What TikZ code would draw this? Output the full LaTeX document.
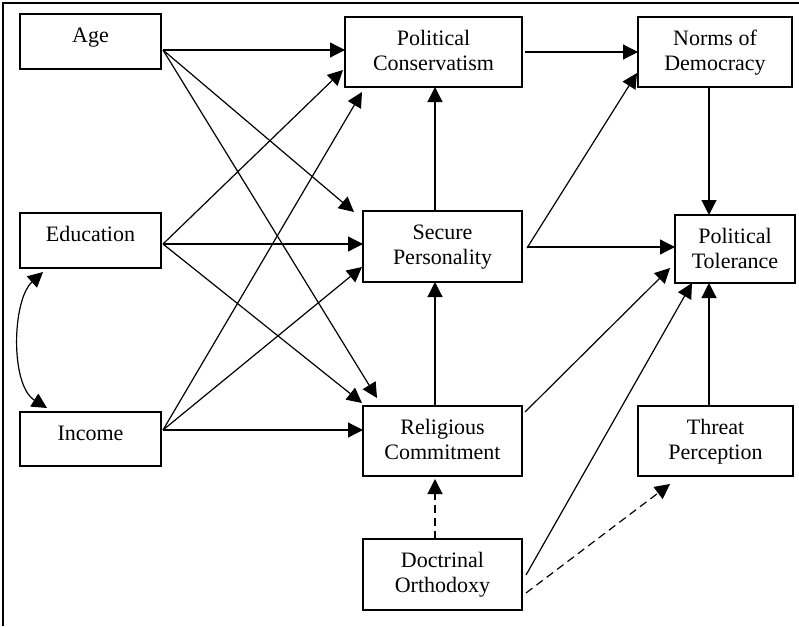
\documentclass[tikz,border=0pt]{standalone}
\usepackage{fontspec}
\setmainfont{Liberation Serif}
\usetikzlibrary{arrows.meta,calc}
\newcommand{\bxtext}[3]{\parbox[c][#2][t]{#1}{\centering\rule{0pt}{28.5pt}#3}}
\tikzset{
  vbox/.style={draw, line width=1.2pt, inner sep=0pt, outer sep=0pt, anchor=north west,
    font=\fontsize{22}{25}\selectfont},
  conn/.style={line width=1.2pt, -{Triangle[length=15pt,width=15pt]}},
  dconn/.style={conn, dash pattern=on 8pt off 5pt},
  frame/.style={line width=1.2pt}
}
\begin{document}
\begin{tikzpicture}[x=1pt,y=-1pt]
\useasboundingbox (0,0) rectangle (799,626);
\draw[frame] (3,626) -- (3,3) -- (799,3);

\node[vbox] (age) at (20,14) {\bxtext{141pt}{55pt}{Age}};
\node[vbox] (edu) at (20,213) {\bxtext{141pt}{55pt}{Education}};
\node[vbox] (inc) at (20,412) {\bxtext{141pt}{54pt}{Income}};
\node[vbox] (pc) at (345,17) {\bxtext{177pt}{70pt}{Political\\Conservatism}};
\node[vbox] (nd) at (638,17) {\bxtext{154pt}{70pt}{Norms of\\Democracy}};
\node[vbox] (sp) at (363,211) {\bxtext{159pt}{71pt}{Secure\\Personality}};
\node[vbox] (pt) at (675,215) {\bxtext{120pt}{68pt}{Political\\Tolerance}};
\node[vbox] (rc) at (363,406) {\bxtext{159pt}{70pt}{Religious\\Commitment}};
\node[vbox] (tp) at (638,406) {\bxtext{155pt}{70pt}{Threat\\Perception}};
\node[vbox] (do) at (363,539) {\bxtext{159pt}{71pt}{Doctrinal\\Orthodoxy}};

% Age
\draw[conn] ($(age.east)+(2,8.5)$) -- ($(pc.west)+(0,-2)$);
\draw[conn] ($(age.east)+(2,8.5)$) -- ($(sp.north west)+(-9,1)$);
\draw[conn] ($(age.east)+(2,8.5)$) -- ($(rc.north west)+(14,-8)$);
% Education
\draw[conn] ($(edu.east)+(2,3.5)$) -- ($(pc.south west)+(-2,-17)$);
\draw[conn] ($(edu.east)+(2,3.5)$) -- ($(sp.west)+(0,-2.5)$);
\draw[conn] ($(edu.east)+(2,3.5)$) -- ($(rc.north west)+(-1,-3)$);
% Income
\draw[conn] ($(inc.east)+(2,-9)$) -- ($(pc.south west)+(17,5)$);
\draw[conn] ($(inc.east)+(2,-9)$) -- ($(sp.south west)+(-1,-15)$);
\draw[conn] ($(inc.east)+(2,-9)$) -- ($(rc.west)+(0,-11)$);
% Education <-> Income
\draw[conn, {Triangle[length=15pt,width=15pt]}-{Triangle[length=15pt,width=15pt]}]
  ($(edu.south west)+(23,4)$) .. controls (12,300) and (10,385) .. ($(inc.north west)+(27,-4)$);
% middle column
\draw[conn] ($(pc.east)+(3,0)$) -- (nd.west);
\draw[conn] ($(sp.north west)+(72,0)$) -- ($(pc.south west)+(90,0)$);
\draw[conn] ($(sp.east)+(5,1.5)$) -- ($(nd.south west)+(-1,-14)$);
\draw[conn] ($(sp.east)+(5,0.5)$) -- ($(pt.west)+(0,-2)$);
\draw[conn] ($(nd.south west)+(71,0)$) -- ($(pt.north west)+(34,0)$);
\draw[conn] ($(rc.north west)+(72,0)$) -- ($(sp.south west)+(72,0)$);
\draw[conn] ($(rc.north east)+(3,6)$) -- ($(pt.south west)+(-5,-15)$);
\draw[conn] ($(do.east)+(4,0.5)$) -- ($(pt.south west)+(17,0)$);
\draw[conn] ($(tp.north west)+(71,0)$) -- ($(pt.south west)+(34,0)$);
% dashed
\draw[dconn] ($(do.north west)+(72,0)$) -- ($(rc.south west)+(72,3)$);
\draw[dconn] ($(do.south east)+(4,-17)$) -- ($(tp.south west)+(32,8)$);
\end{tikzpicture}
\end{document}
